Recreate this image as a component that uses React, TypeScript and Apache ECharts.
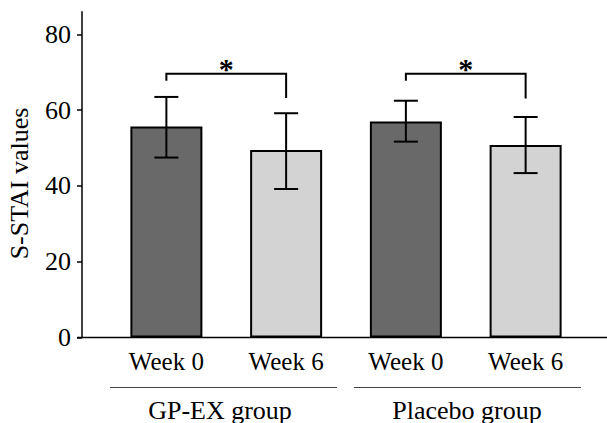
import React, { useEffect, useRef } from "react";
import * as echarts from "echarts";

const categories = ["Week 0", "Week 6", "Week 0", "Week 6"];
const means = [55.7, 49.5, 57.0, 50.8];
const errLow = [47.5, 39.2, 51.7, 43.4];
const errHigh = [63.5, 59.2, 62.5, 58.2];
const barColors = ["#696969", "#d3d3d3", "#696969", "#d3d3d3"];
const yTicks = [0, 20, 40, 60, 80];
const groups = ["GP-EX group", "Placebo group"];
const bracketFrom = [0, 2];
const bracketTo = [1, 3];
const bracketTop = [69.6, 69.6];
const bracketLeftEnd = [67.8, 67.8];
const bracketRightEnd = [63.2, 63.1];
const bracketMark = ["*", "*"];

const FONT = "'Liberation Serif', 'Times New Roman', serif";

export default function App() {
  const ref = useRef<HTMLDivElement>(null);
  useEffect(() => {
    if (!ref.current) return;
    const chart = echarts.init(ref.current, null, { renderer: "svg" });
    const option: any = {
      animation: false,
      backgroundColor: "#ffffff",
      grid: { left: 106.5, right: 21.5, top: 11.7, bottom: 85.5, containLabel: false },
      xAxis: {
        type: "category",
        data: categories,
        axisLine: { show: false },
        axisTick: { show: false },
        axisLabel: { fontFamily: FONT, fontSize: 25, color: "#000", margin: 11 },
      },
      yAxis: {
        type: "value",
        min: 0,
        max: 86,
        offset: 24.5,
        splitLine: { show: false },
        axisLine: { show: true, lineStyle: { color: "#000", width: 1.5 } },
        axisTick: { show: true, length: 5, lineStyle: { color: "#000", width: 1.5 }, customValues: yTicks },
        axisLabel: { fontFamily: FONT, fontSize: 26, color: "#000", margin: 11, customValues: yTicks },
      },
      graphic: [
        { type: "line", shape: { x1: 77, y1: 337.5, x2: 607, y2: 337.5 }, style: { stroke: "#000", lineWidth: 1.5 }, z: 10 },
        { type: "line", shape: { x1: 110, y1: 387.5, x2: 337, y2: 387.5 }, style: { stroke: "#444", lineWidth: 1 } },
        { type: "line", shape: { x1: 354, y1: 387.5, x2: 581, y2: 387.5 }, style: { stroke: "#444", lineWidth: 1 } },
        { type: "text", x: 220, y: 410, style: { text: groups[0], font: `26px ${FONT}`, fill: "#000", textAlign: "center", textVerticalAlign: "middle" } },
        { type: "text", x: 467, y: 410, style: { text: groups[1], font: `26px ${FONT}`, fill: "#000", textAlign: "center", textVerticalAlign: "middle" } },
        { type: "text", x: 19, y: 183.5, rotation: Math.PI / 2, style: { text: "S-STAI values", font: `26px ${FONT}`, fill: "#000", textAlign: "center", textVerticalAlign: "middle" } },
      ],
      series: [
        {
          type: "bar",
          barWidth: 72,
          data: means.map((v, i) => ({ value: v, itemStyle: { color: barColors[i] } })),
          itemStyle: { borderColor: "#000", borderWidth: 2 },
          z: 2,
        },
        {
          type: "custom",
          z: 3,
          encode: { x: 0, y: [1, 2] },
          data: categories.map((_, i) => [i, errLow[i], errHigh[i]]),
          renderItem: (params: any, api: any) => {
            const x = api.value(0);
            const lo = api.coord([x, api.value(1)]);
            const hi = api.coord([x, api.value(2)]);
            const st = { stroke: "#000", lineWidth: 2 };
            return {
              type: "group",
              children: [
                { type: "line", shape: { x1: lo[0], y1: lo[1], x2: hi[0], y2: hi[1] }, style: st },
                { type: "line", shape: { x1: lo[0] - 12, y1: lo[1], x2: lo[0] + 12, y2: lo[1] }, style: st },
                { type: "line", shape: { x1: hi[0] - 12, y1: hi[1], x2: hi[0] + 12, y2: hi[1] }, style: st },
              ],
            };
          },
        },
        {
          type: "custom",
          z: 3,
          encode: { x: [0, 1], y: [2, 3, 4] },
          data: bracketFrom.map((f, i) => [f, bracketTo[i], bracketTop[i], bracketLeftEnd[i], bracketRightEnd[i]]),
          renderItem: (params: any, api: any) => {
            const f = api.value(0);
            const t = api.value(1);
            const a = api.coord([f, api.value(3)]);
            const b = api.coord([f, api.value(2)]);
            const c = api.coord([t, api.value(2)]);
            const d = api.coord([t, api.value(4)]);
            return {
              type: "group",
              children: [
                {
                  type: "polyline",
                  shape: { points: [a, b, c, d] },
                  style: { stroke: "#000", lineWidth: 2, fill: null },
                },
                {
                  type: "text",
                  x: (b[0] + c[0]) / 2,
                  y: b[1] - 5,
                  style: {
                    text: bracketMark[params.dataIndex],
                    font: `bold 30px ${FONT}`,
                    fill: "#000",
                    textAlign: "center",
                    textVerticalAlign: "middle",
                  },
                },
              ],
            };
          },
        },
      ],
    };
    chart.setOption(option);
    return () => chart.dispose();
  }, []);
  return (
    <div
      ref={ref}
      style={{ position: "absolute", left: 0, top: 0, width: 607, height: 423 }}
    />
  );
}
